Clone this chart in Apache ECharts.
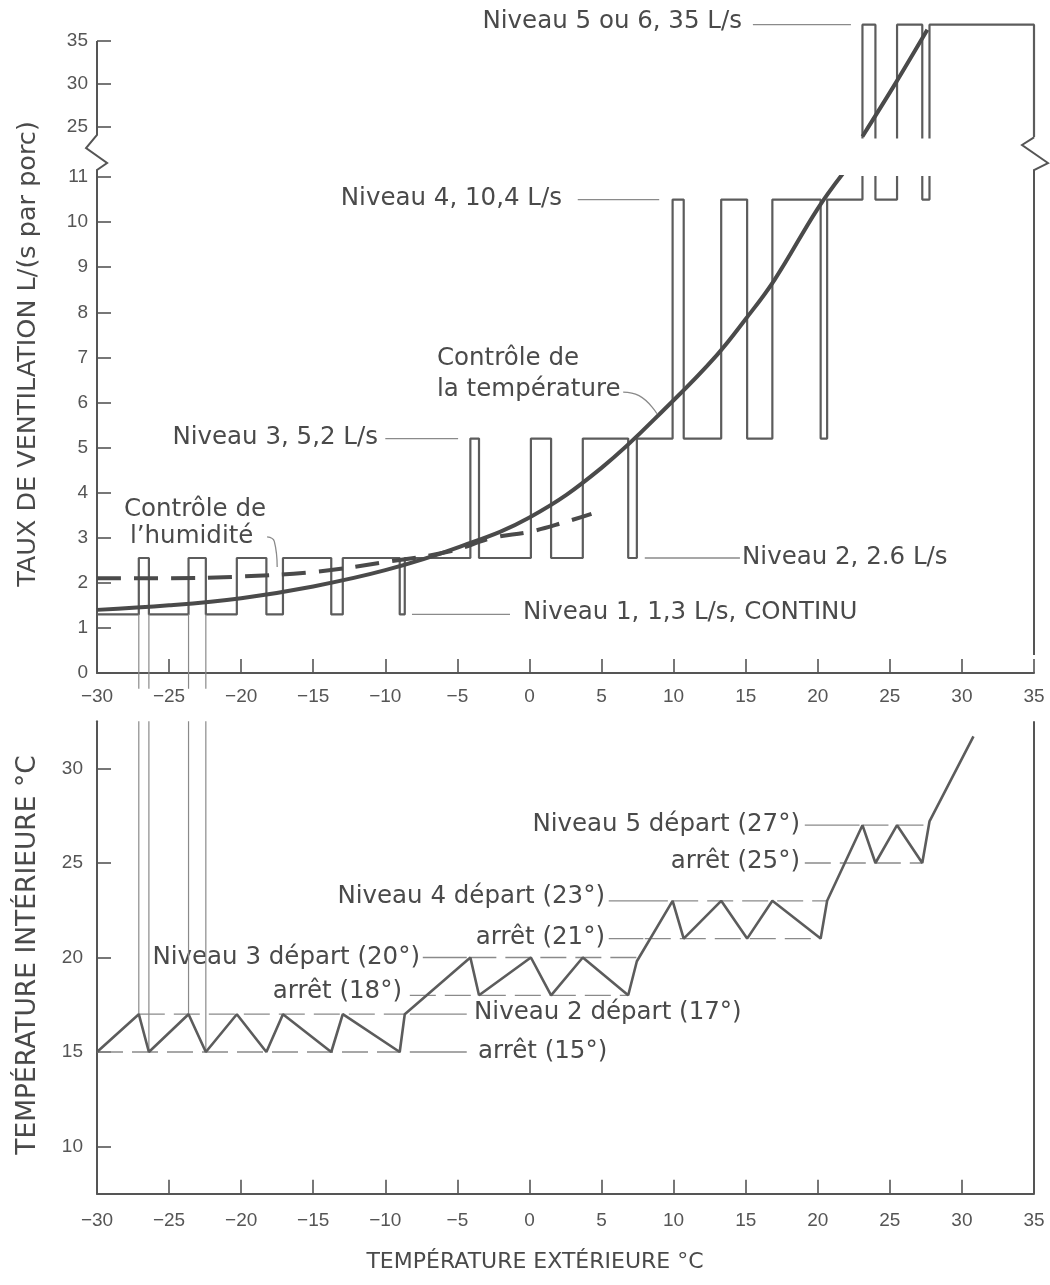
<!DOCTYPE html>
<html>
<head>
<meta charset="utf-8">
<script src="https://cdn.jsdelivr.net/npm/echarts@6/dist/echarts.min.js"></script>
<style>
  html, body { margin: 0; padding: 0; background: #fff; }
  #chart { width: 1050px; height: 1285px; }
</style>
</head>
<body>
<div id="chart"></div>
<script>
// ---- données ----
// niveaux de ventilation tels que dessinés (L/s par porc); le trait du niveau 5 (35 L/s) est tracé au-dessus de la graduation 35
const ventLevels = [1.3, 2.55, 5.2, 10.5, 36.9];

// températures extérieures où le ventilateur change de niveau (montée, descente, montée, ...)
const switchTemps = [
  [-27.1, -26.4, -23.65, -22.45, -20.3, -18.25, -17.1, -13.75, -12.95, -9.0, -8.65], // 1 <-> 2
  [-4.1, -3.5, 0.1, 1.5, 3.7, 6.85, 7.45],                                           // 2 <-> 3
  [9.93, 10.7, 13.3, 15.1, 16.85, 20.2, 20.65],                                      // 3 <-> 4
  [23.1, 24.0, 25.5, 27.25, 27.75]                                                   // 4 <-> 5
];

// courbe "Contrôle de la température"
const tempControl = [
  [-30, 1.4], [-25, 1.5], [-20, 1.66], [-15, 1.92], [-10, 2.28], [-5, 2.78], [0, 3.45],
  [5, 4.55], [10, 6.05], [13, 7.05], [15, 7.85], [17, 8.72], [20, 10.3], [21.8, 11.1]
];
const tempControlUpper = [[23.1, 23.9], [25.4, 30.1], [27.6, 36.3]];

// courbe "Contrôle de l'humidité" (tirets)
const humidityControl = [
  [-30, 2.1], [-25, 2.1], [-20, 2.14], [-15, 2.24], [-10, 2.46], [-5.5, 2.7],
  [-2.5, 3.0], [0, 3.13], [2.5, 3.35], [4.3, 3.53]
];

// température intérieure
const indoorTemp = [
  [-30, 15], [-27.1, 17], [-26.4, 15], [-23.65, 17], [-22.45, 15], [-20.3, 17], [-18.25, 15],
  [-17.1, 17], [-13.75, 15], [-12.95, 17], [-9.0, 15], [-8.65, 17],
  [-4.1, 20], [-3.5, 18], [0.1, 20], [1.5, 18], [3.7, 20], [6.85, 18], [7.45, 19.8],
  [9.93, 23], [10.7, 21], [13.3, 23], [15.1, 21], [16.85, 23], [20.2, 21], [20.65, 23],
  [23.1, 27], [24.0, 25], [25.5, 27], [27.25, 25], [27.75, 27.2], [30.8, 31.7]
];

// consignes: [température, début tirets, fin tirets]
const setpointDash = [
  [15, -30, -8.95], [17, -27.1, -8.65], [18, -8.3, 6.85], [20, -4.1, 7.45],
  [21, 8.0, 20.2], [23, 9.9, 20.65], [25, 19.1, 27.25], [27, 23.1, 27.75]
];
// traits de rappel vers les étiquettes: [température, de, à]
const setpointLeader = [
  [15, -8.3, -4.35], [17, -8.3, -4.35], [20, -7.4, -4.35],
  [21, 5.5, 7.9], [23, 5.5, 9.6], [27, 19.1, 22.9]
];

const xTicks = { min: -30, max: 35, step: 5 };
const ventTicksUpper = [25, 30, 35];
const indoorTicks = [10, 15, 20, 25, 30];

// coupure de l'axe (échelle 25-35), en coordonnées de la grille du haut
const breakLeft = [[-30, 35], [-30, 24.07], [-30.76, 22.56], [-29.3, 20.81], [-30, 20.0], [-30, 19.19]];
const breakRight = [[35, 23.8], [34.17, 22.91], [35.97, 20.81], [35, 20.0], [35, 19.19]];

// ---- mise en forme ----
const INK = '#4a4a4a';
const LINE = '#5c5c5c';
const THIN = '#8a8a8a';
const TXT = 'DejaVu Sans';
const NUM = 'Liberation Sans';
const upperBottom = 23.8;   // bas de l'échelle coupée 25-35

function buildStairs() {
  const pts = [[xTicks.min, ventLevels[0]]];
  switchTemps.forEach((temps, s) => {
    const lo = ventLevels[s], hi = ventLevels[s + 1];
    temps.forEach((t, i) => {
      if (i % 2 === 0) pts.push([t, lo], [t, hi]);
      else pts.push([t, hi], [t, lo]);
    });
  });
  pts.push([xTicks.max, ventLevels[4]], [xTicks.max, upperBottom]);
  return pts;
}

function line(data, idx, style, extra) {
  return Object.assign({
    type: 'line', xAxisIndex: idx, yAxisIndex: idx, data: data,
    symbol: 'none', silent: true, animation: false, clip: true,
    lineStyle: style
  }, extra || {});
}

const minus = v => (v < 0 ? '\u2212' + Math.abs(v) : String(v));
const axisStyle = { color: '#555', width: 2 };

function xAxis(idx, margin) {
  return {
    gridIndex: idx, type: 'value', min: xTicks.min, max: xTicks.max, interval: xTicks.step,
    show: idx !== 1,
    axisLine: { onZero: false, lineStyle: axisStyle },
    axisTick: { inside: true, length: 14, lineStyle: { color: '#555', width: 1.6 } },
    axisLabel: { margin: margin, fontSize: 19, fontFamily: NUM, color: '#555', formatter: minus },
    splitLine: { show: false }
  };
}

const stairs = buildStairs();
const series = [];

// panneau du haut
series.push(line(stairs, 0, { color: LINE, width: 2.2 }));
series.push(line(stairs, 1, { color: LINE, width: 2.2 }));
series.push(line(tempControl, 0, { color: INK, width: 4 }, { smooth: 0.4 }));
series.push(line(tempControlUpper, 1, { color: INK, width: 4 }, { smooth: 0.3 }));
series.push(line(humidityControl, 0, { color: INK, width: 4, type: [24, 13] }, { smooth: 0.4 }));
series.push(line([[35, 11.2], [35, 0.4]], 0, axisStyle));

// traits de rappel verticaux entre les deux panneaux
indoorTemp.slice(1, 5).forEach(p => {
  series.push(line([[p[0], ventLevels[0]], [p[0], -0.35]], 0, { color: THIN, width: 1.2 }, { clip: false }));
  series.push(line([[p[0], 32.5], [p[0], p[1]]], 2, { color: THIN, width: 1.2 }));
});

// rappels des étiquettes du haut
series.push(line([[15.5, ventLevels[4]], [22.3, ventLevels[4]]], 1, { color: THIN, width: 1.3 }));
series.push(line([[3.35, ventLevels[3]], [9.0, ventLevels[3]]], 0, { color: THIN, width: 1.3 }));
series.push(line([[-10.0, ventLevels[2]], [-4.95, ventLevels[2]]], 0, { color: THIN, width: 1.3 }));
series.push(line([[8.0, ventLevels[1]], [14.6, ventLevels[1]]], 0, { color: THIN, width: 1.3 }));
series.push(line([[-8.15, ventLevels[0]], [-1.35, ventLevels[0]]], 0, { color: THIN, width: 1.3 }));
series.push(line([[6.5, 6.23], [7.6, 6.15], [8.85, 5.75]], 0, { color: THIN, width: 1.3 }, { smooth: 0.5 }));
series.push(line([[-18.2, 3.02], [-17.7, 2.92], [-17.5, 2.35]], 0, { color: THIN, width: 1.3 }, { smooth: 0.5 }));

// panneau du bas
setpointDash.forEach(d => {
  series.push(line([[d[1], d[0]], [d[2], d[0]]], 2, { color: THIN, width: 1.3, type: [26, 9] }));
});
setpointLeader.forEach(d => {
  series.push(line([[d[1], d[0]], [d[2], d[0]]], 2, { color: THIN, width: 1.3 }));
});
series.push(line(indoorTemp, 2, { color: LINE, width: 2.6 }));
series.push(line([[35, 32.5], [35, 7.5]], 2, axisStyle));

// étiquettes (positions en pixels)
const notes = [
  ['Niveau 5 ou 6, 35 L/s', 742, 22, 'right'],
  ['Niveau 4, 10,4 L/s', 562, 199, 'right'],
  ['Contrôle de', 437, 359, 'left'],
  ['la température', 437, 390, 'left'],
  ['Niveau 3, 5,2 L/s', 378, 438, 'right'],
  ['Contrôle de', 124, 510, 'left'],
  ['l\u2019humidité', 130, 537, 'left'],
  ['Niveau 2, 2.6 L/s', 742, 558, 'left'],
  ['Niveau 1, 1,3 L/s, CONTINU', 523, 613, 'left'],
  ['Niveau 5 départ (27°)', 800, 825, 'right'],
  ['arrêt (25°)', 800, 862, 'right'],
  ['Niveau 4 départ (23°)', 605, 897, 'right'],
  ['arrêt (21°)', 605, 938, 'right'],
  ['Niveau 3 départ (20°)', 420, 958, 'right'],
  ['arrêt (18°)', 402, 992, 'right'],
  ['Niveau 2 départ (17°)', 474, 1013, 'left'],
  ['arrêt (15°)', 478, 1052, 'left']
];

const graphic = notes.map(n => ({
  type: 'text', x: n[1], y: n[2], silent: true,
  style: { text: n[0], fill: INK, fontSize: 24.5, fontFamily: TXT, align: n[3], verticalAlign: 'middle' }
}));
graphic.push(
  { type: 'text', x: 28, y: 354, rotation: Math.PI / 2, silent: true,
    style: { text: 'TAUX DE VENTILATION L/(s par porc)', fill: INK, fontSize: 25.5, fontFamily: TXT, align: 'center', verticalAlign: 'middle' } },
  { type: 'text', x: 28, y: 955, rotation: Math.PI / 2, silent: true,
    style: { text: 'TEMPÉRATURE INTÉRIEURE °C', fill: INK, fontSize: 26.5, fontFamily: TXT, align: 'center', verticalAlign: 'middle' } },
  { type: 'text', x: 535, y: 1262, silent: true,
    style: { text: 'TEMPÉRATURE EXTÉRIEURE °C', fill: INK, fontSize: 22, fontFamily: TXT, align: 'center', verticalAlign: 'middle' } }
);

const chart = echarts.init(document.getElementById('chart'), null, { renderer: 'canvas' });
chart.setOption({
  backgroundColor: '#ffffff',
  animation: false,
  grid: [
    { left: 97, top: 177, width: 937, height: 496 },
    { left: 97, top: 15.2, width: 937, height: (38 - upperBottom) * 8.6 },
    { left: 97, top: 721.25, width: 937, height: 472.5 }
  ],
  xAxis: [xAxis(0, 14), xAxis(1, 14), xAxis(2, 18)],
  yAxis: [
    {
      gridIndex: 0, type: 'value', min: 0, max: 11, interval: 1,
      axisLine: { onZero: false, lineStyle: axisStyle },
      axisTick: { inside: true, length: 14, lineStyle: { color: '#555', width: 1.6 } },
      axisLabel: { margin: 9, fontSize: 19, fontFamily: NUM, color: '#555' },
      splitLine: { show: false }
    },
    {
      gridIndex: 1, type: 'value', min: upperBottom, max: 38,
      axisLine: { show: false, onZero: false },
      axisTick: { inside: true, length: 14, customValues: ventTicksUpper, lineStyle: { color: '#555', width: 1.6 } },
      axisLabel: { margin: 9, fontSize: 19, fontFamily: NUM, color: '#555', customValues: ventTicksUpper },
      splitLine: { show: false }
    },
    {
      gridIndex: 2, type: 'value', min: 7.5, max: 32.5,
      axisLine: { onZero: false, lineStyle: axisStyle },
      axisTick: { inside: true, length: 14, customValues: indoorTicks, lineStyle: { color: '#555', width: 1.6 } },
      axisLabel: { margin: 14, fontSize: 19, fontFamily: NUM, color: '#555', customValues: indoorTicks },
      splitLine: { show: false }
    }
  ],
  series: series,
  graphic: graphic
});

// coupure d'axe: placée via l'échelle de la grille du haut
const toPx = pts => pts.map(pt => chart.convertToPixel({ gridIndex: 1 }, pt));
[breakLeft, breakRight].forEach(pts => {
  graphic.push({
    type: 'polyline', silent: true, z: 10,
    shape: { points: toPx(pts) },
    style: { stroke: '#555', lineWidth: 2, fill: null }
  });
});
chart.setOption({ graphic: graphic });
</script>
</body>
</html>
